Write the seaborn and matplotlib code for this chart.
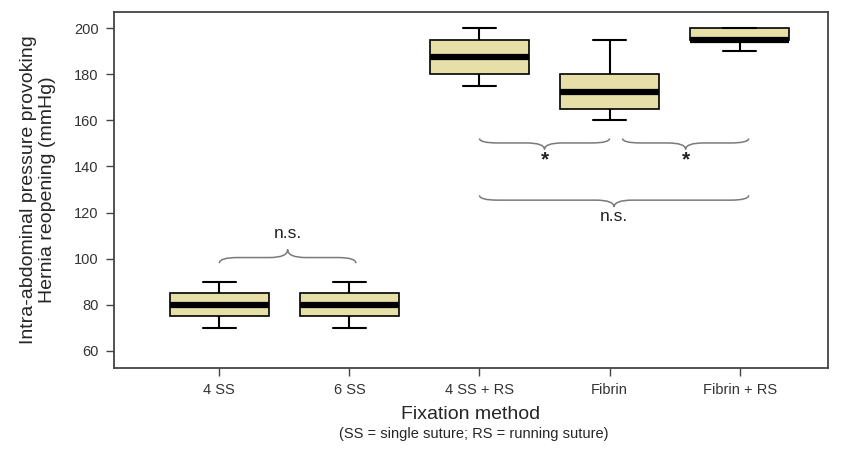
import numpy as np
import pandas as pd
import matplotlib
matplotlib.use("Agg")
import matplotlib.pyplot as plt
import seaborn as sns
from matplotlib.path import Path
from matplotlib.patches import PathPatch

# ------------------------
# DATA (five-number summaries)
# ------------------------
methods = ["4 SS", "6 SS", "4 SS + RS", "Fibrin", "Fibrin + RS"]
v_4ss = [70, 75, 80, 85, 90]
v_6ss = [70, 75, 80, 85, 90]
v_4ssrs = [175, 180, 187.5, 195, 200]
v_fibrin = [160, 165, 172.5, 180, 195]
v_fibrinrs = [190, 195, 195, 200, 200]

# brace annotations: (x start, x end, line y, tip dy, label)
braces = [
    (0.0, 1.05, 100.5, 3.5, "n.s."),
    (2.0, 3.0, 150.2, -2.8, "*"),
    (3.1, 4.07, 150.2, -2.8, "*"),
    (2.0, 4.07, 125.4, -3.0, "n.s."),
]

df = pd.DataFrame({
    "method": np.repeat(methods, 5),
    "pressure": v_4ss + v_6ss + v_4ssrs + v_fibrin + v_fibrinrs,
})

sns.set_theme(style="white")
plt.rcParams["font.family"] = ["Liberation Sans", "DejaVu Sans"]

fig = plt.figure(figsize=(8.42, 4.49), dpi=100)
ax = fig.add_axes([0.1354, 0.1804, 0.848, 0.7929])

sns.boxplot(
    data=df, x="method", y="pressure", order=methods, ax=ax,
    width=0.76, color="#E6DFA8", saturation=1, whis=1.5,
    linecolor="black", linewidth=1.2,
    medianprops={"color": "black", "linewidth": 4.5},
    whiskerprops={"linewidth": 1.5},
    capprops={"linewidth": 1.5},
    capwidths=0.25,
)

def curly(ax, x0, x1, y, dy, r=0.14):
    # simple curly brace: ends bend away from tip, tip in middle
    xc = (x0 + x1) / 2
    ye = y - dy * 0.7
    verts = [
        (x0, ye), (x0, y), (x0 + r, y),
        (xc - r, y),
        (xc, y), (xc, y + dy),
        (xc, y), (xc + r, y),
        (x1 - r, y),
        (x1, y), (x1, ye),
    ]
    codes = [Path.MOVETO, Path.CURVE3, Path.CURVE3, Path.LINETO,
             Path.CURVE3, Path.CURVE3, Path.CURVE3, Path.CURVE3,
             Path.LINETO, Path.CURVE3, Path.CURVE3]
    ax.add_patch(PathPatch(Path(verts, codes), fill=False,
                           edgecolor="#7a7a7a", linewidth=1.1))

for x0, x1, y, dy, lab in braces:
    curly(ax, x0, x1, y, dy)
    xc = (x0 + x1) / 2
    if dy > 0:
        ax.text(xc, y + dy + 3.5, lab, ha="center", va="bottom",
                fontsize=12.5, color="#222222")
    elif lab == "*":
        ax.text(xc, y + dy - 0.5, lab, ha="center", va="top", fontsize=15,
                fontweight="bold", color="#222222")
    else:
        ax.text(xc, y + dy - 1, lab, ha="center", va="top", fontsize=12.5,
                color="#222222")

ax.set_xlim(-0.81, 4.68)
ax.set_ylim(52.6, 207)
ax.set_yticks(range(60, 201, 20))

for s in ax.spines.values():
    s.set_color("#444444")
    s.set_linewidth(1.3)
ax.tick_params(axis="both", direction="out", length=6, width=1,
               color="#444444", labelsize=10.5, labelcolor="#333333",
               left=True, bottom=True, pad=5)

ax.set_xlabel("Fixation method", fontsize=14, labelpad=6)
ax.set_ylabel("Intra-abdominal pressure provoking\nHernia reopening (mmHg)",
              fontsize=14, labelpad=13, linespacing=1.15)
fig.text(0.5625, 0.033, "(SS = single suture; RS = running suture)",
         ha="center", va="center", fontsize=10.5)

fig.savefig("out.png", dpi=100)
